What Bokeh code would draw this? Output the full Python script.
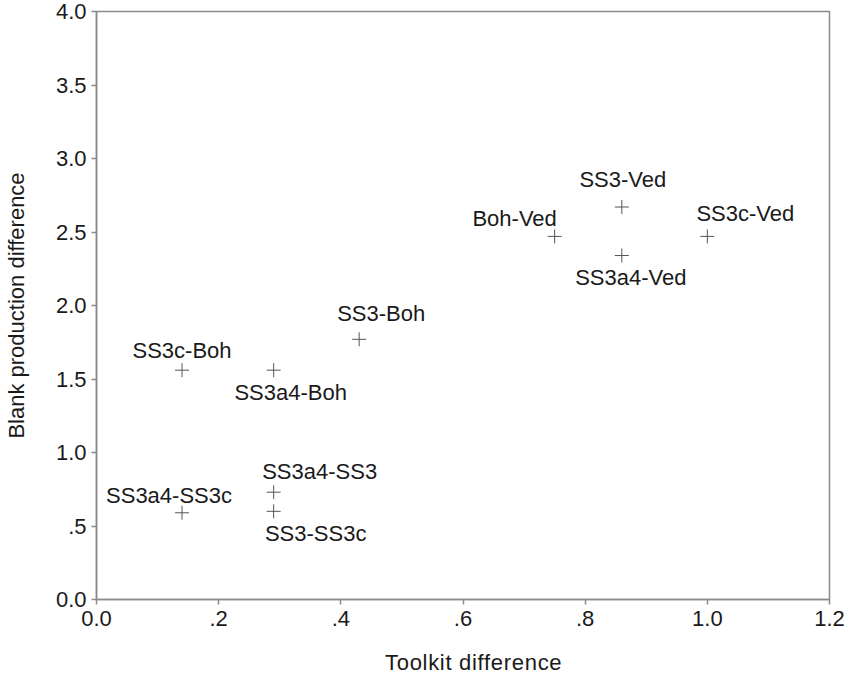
from bokeh.plotting import figure
from bokeh.models import ColumnDataSource, Range1d, FixedTicker, Div
from bokeh.layouts import column
from bokeh.core.properties import value
from bokeh.embed import file_html
from bokeh.resources import INLINE

# ---- data ----
pair_labels = ["SS3c-Boh", "SS3a4-Boh", "SS3-Boh", "SS3a4-SS3", "SS3-SS3c",
               "SS3a4-SS3c", "Boh-Ved", "SS3-Ved", "SS3a4-Ved", "SS3c-Ved"]
toolkit_diff = [0.14, 0.29, 0.43, 0.29, 0.29, 0.14, 0.75, 0.86, 0.86, 1.00]
blank_diff = [1.56, 1.56, 1.77, 0.73, 0.60, 0.59, 2.47, 2.67, 2.34, 2.47]

x_ticks = [0.0, 0.2, 0.4, 0.6, 0.8, 1.0, 1.2]
x_tick_labels = ["0.0", ".2", ".4", ".6", ".8", "1.0", "1.2"]
y_ticks = [0.0, 0.5, 1.0, 1.5, 2.0, 2.5, 3.0, 3.5, 4.0]
y_tick_labels = ["0.0", ".5", "1.0", "1.5", "2.0", "2.5", "3.0", "3.5", "4.0"]

x_title = "Toolkit difference"
y_title = "Blank production difference"

# ---- label placement (screen pixels, relative to each point) ----
label_dx = [0, 17, 22, 46, 42, -13, -40, 1, 9, 38]
label_dy = [-20, 22, -26, -21, 22, -17, -18, -28, 22, -23]

FONT = "Liberation Sans"
FS = "22px"
TXT = "#1a1a1a"
AX = "#8a8a8a"

src = ColumnDataSource(dict(x=toolkit_diff, y=blank_diff, lab=pair_labels,
                            dx=label_dx, dy=label_dy))

p = figure(width=850, height=638, output_backend="svg", toolbar_location=None,
           x_range=Range1d(0, 1.2), y_range=Range1d(0, 4.0),
           min_border_left=93, min_border_top=11, min_border_right=21,
           min_border_bottom=39)

p.grid.visible = False
p.outline_line_color = AX
p.outline_line_width = 1.5
p.background_fill_color = "white"
p.border_fill_color = "white"

for ax in (p.xaxis[0], p.yaxis[0]):
    ax.axis_line_color = AX
    ax.axis_line_width = 1.5
    ax.major_tick_line_color = AX
    ax.major_tick_line_width = 1.5
    ax.major_tick_in = 0
    ax.major_tick_out = 5
    ax.minor_tick_line_color = None
    ax.major_label_text_font = FONT
    ax.major_label_text_font_size = FS
    ax.major_label_text_color = TXT
    ax.axis_label_text_font = FONT
    ax.axis_label_text_font_size = FS
    ax.axis_label_text_font_style = "normal"
    ax.axis_label_text_color = TXT

p.xaxis.ticker = FixedTicker(ticks=x_ticks)
p.xaxis.major_label_overrides = dict(zip(x_ticks, x_tick_labels))
p.yaxis.ticker = FixedTicker(ticks=y_ticks)
p.yaxis.major_label_overrides = dict(zip(y_ticks, y_tick_labels))

p.yaxis.axis_label = y_title
p.xaxis.major_label_standoff = 6
p.yaxis.major_label_standoff = 5
p.yaxis.axis_label_standoff = 24

p.scatter("x", "y", source=src, marker="cross", size=14,
          line_color="#555555", line_width=1)

p.text("x", "y", text="lab", source=src, x_offset="dx", y_offset="dy",
       text_align="center", text_baseline="middle",
       text_font=value(FONT), text_font_size=FS, text_color=TXT)

# x-axis title as a separate text block below the plot
xt = Div(text=x_title, width=440, height=14, margin=(18, 0, 0, 385),
         styles={"font-family": FONT, "font-size": FS, "color": TXT,
                 "line-height": "14px", "white-space": "nowrap",
                 "letter-spacing": "0.7px", "overflow": "visible"})

lay = column(p, xt, spacing=0)

open("out.html", "w").write(file_html(lay, INLINE))
